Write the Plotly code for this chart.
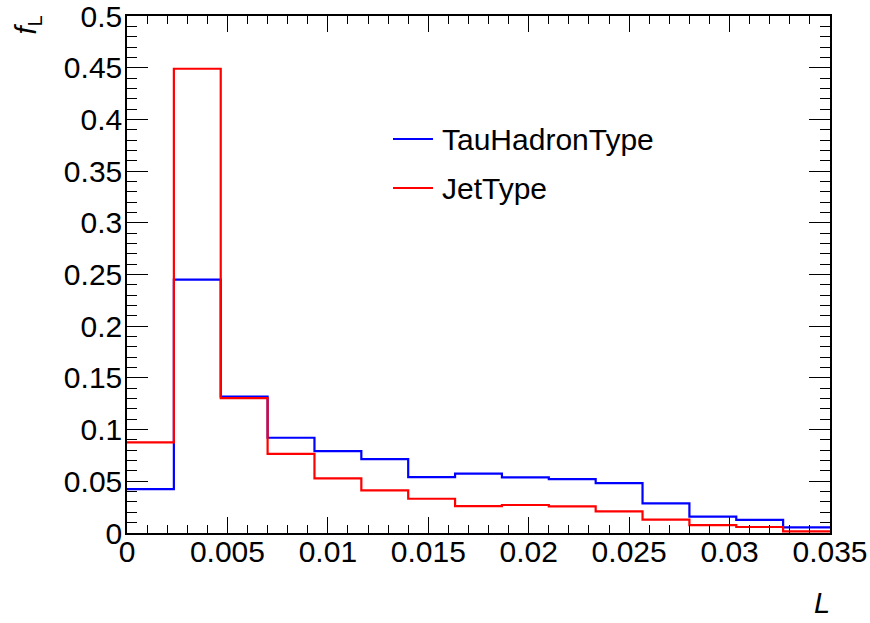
import numpy as np
import plotly.graph_objects as go

# Histogram binning of the decay length L
x_min, x_max, n_bins = 0.0, 0.035, 15

# Normalised fractions per bin
tau_hadron = [0.0425, 0.245, 0.132, 0.0921, 0.0792, 0.0715, 0.0541, 0.0575,
              0.0537, 0.0522, 0.0483, 0.0286, 0.0158, 0.0126, 0.0054]
jet = [0.0876, 0.449, 0.1305, 0.0766, 0.0528, 0.0412, 0.0331, 0.0259,
       0.0271, 0.0257, 0.0209, 0.0129, 0.0077, 0.0058, 0.0016]

series_names = ["TauHadronType", "JetType"]
series_values = [tau_hadron, jet]
series_colors = ["#0000ff", "#ff0000"]

edges = np.linspace(x_min, x_max, n_bins + 1)

FONT = "Liberation Sans, Arial, Helvetica, sans-serif"
W, H = 870, 623
ML, MR, MT, MB = 127, 40, 16, 90
PW, PH = W - ML - MR, H - MT - MB

fig = go.Figure()
for name, vals, col in zip(series_names, series_values, series_colors):
    fig.add_trace(go.Scatter(
        x=edges, y=list(vals) + [vals[-1]],
        mode="lines", line=dict(color=col, width=2.2, shape="hv"),
        name=name, showlegend=False, hoverinfo="skip",
    ))

def px_to_paper(px, py):
    return (px - ML) / PW, (MT + PH - py) / PH

# Legend drawn in the upper middle of the frame
legend_rows = [139, 188]
for name, col, ry in zip(series_names, series_colors, legend_rows):
    x0, y0 = px_to_paper(393, ry)
    x1, _ = px_to_paper(433, ry)
    fig.add_shape(type="line", xref="paper", yref="paper",
                  x0=x0, x1=x1, y0=y0, y1=y0, line=dict(color=col, width=2.2))
    tx, ty = px_to_paper(440, ry)
    fig.add_annotation(xref="paper", yref="paper", x=tx, y=ty, text=name,
                       showarrow=False, xanchor="left", yanchor="middle",
                       font=dict(family=FONT, size=30, color="black"))

# Axis titles
lx, ly = px_to_paper(832, 621)
fig.add_annotation(xref="paper", yref="paper", x=lx, y=ly, text="<i>L</i>",
                   showarrow=False, xanchor="right", yanchor="bottom",
                   font=dict(family=FONT, size=29, color="black"))
fx, fy = px_to_paper(28, 14)
fig.add_annotation(xref="paper", yref="paper", x=fx, y=fy,
                   text="<i>f</i><sub>L</sub>", textangle=-90,
                   showarrow=False, xanchor="center", yanchor="top",
                   font=dict(family=FONT, size=29, color="black"))

axis_common = dict(
    showline=True, linecolor="black", linewidth=1.5, mirror="ticks",
    ticks="inside", tickcolor="black", tickwidth=1,
    showgrid=False, zeroline=False, automargin=False,
    ticklabeloverflow="allow",
    tickfont=dict(family=FONT, size=30, color="black"),
)

fig.update_xaxes(range=[x_min, x_max], dtick=0.005, tick0=0, ticklen=16,
                 ticklabelstandoff=-9,
                 minor=dict(dtick=0.001, ticks="inside", ticklen=8,
                            tickcolor="black", tickwidth=1, showgrid=False),
                 **axis_common)
fig.update_yaxes(range=[0, 0.5], dtick=0.05, tick0=0, ticklen=21,
                 ticklabelstandoff=-3,
                 minor=dict(dtick=0.01, ticks="inside", ticklen=10,
                            tickcolor="black", tickwidth=1, showgrid=False),
                 **axis_common)

fig.update_layout(
    width=W, height=H,
    margin=dict(l=ML, r=MR, t=MT, b=MB, pad=0, autoexpand=False),
    paper_bgcolor="white", plot_bgcolor="white",
    showlegend=False,
)

fig.write_html("out.html")
